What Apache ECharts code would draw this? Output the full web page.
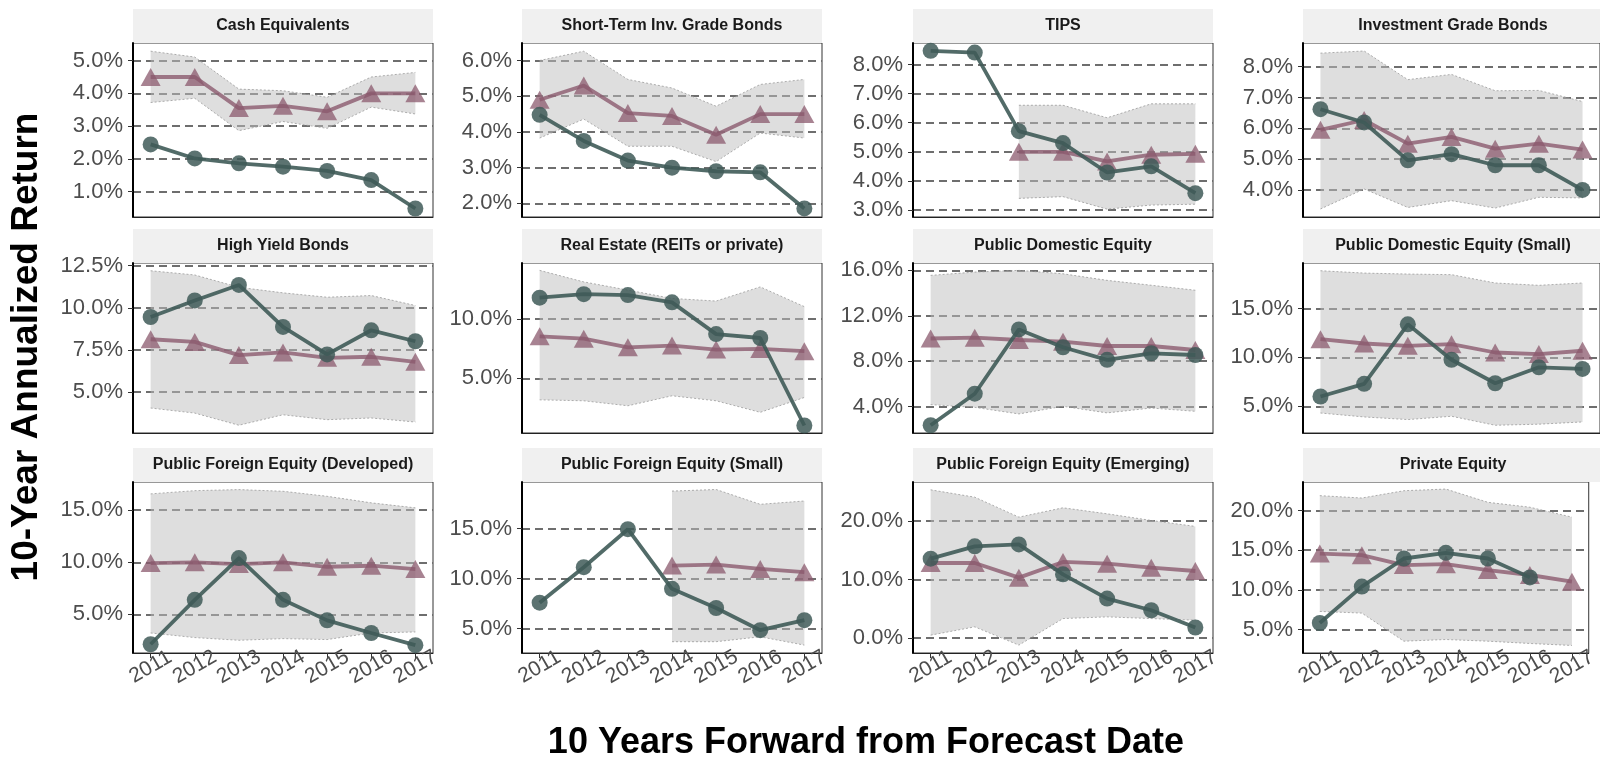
<!DOCTYPE html>
<html>
<head>
<meta charset="utf-8">
<title>10-Year Annualized Return by Asset Class</title>
<script src="https://cdn.jsdelivr.net/npm/echarts@6/dist/echarts.min.js"></script>
<style>
  html, body { margin: 0; padding: 0; background: #fff; }
  #chart { width: 1600px; height: 759px; }
</style>
</head>
<body>
<div id="chart"></div>
<script>
// x categories: 10 years forward from forecast date
const years = [2011, 2012, 2013, 2014, 2015, 2016, 2017];

// panel titles, in facet order
const panelTitles = [
  'Cash Equivalents', 'Short-Term Inv. Grade Bonds', 'TIPS', 'Investment Grade Bonds',
  'High Yield Bonds', 'Real Estate (REITs or private)', 'Public Domestic Equity', 'Public Domestic Equity (Small)',
  'Public Foreign Equity (Developed)', 'Public Foreign Equity (Small)', 'Public Foreign Equity (Emerging)', 'Private Equity'
];

// realized returns (circles), forecasts (triangles), forecast range (band low / high), in %
const cashActual = [2.44, 2.01, 1.86, 1.76, 1.63, 1.35, 0.48];
const cashForecast = [4.5, 4.5, 3.55, 3.62, 3.45, 4.0, 4.0];
const cashLow = [3.72, 3.85, 2.86, 3.14, 2.93, 3.58, 3.37];
const cashHigh = [5.29, 5.11, 4.13, 4.08, 3.88, 4.5, 4.64];

const stBondActual = [4.48, 3.75, 3.2, 3.0, 2.9, 2.87, 1.86];
const stBondForecast = [4.9, 5.3, 4.53, 4.45, 3.92, 4.5, 4.5];
const stBondLow = [3.83, 4.36, 3.6, 3.6, 3.17, 3.97, 3.83];
const stBondHigh = [6.0, 6.26, 5.47, 5.23, 4.72, 5.33, 5.47];

const tipsActual = [8.47, 8.41, 5.71, 5.3, 4.29, 4.5, 3.58];
const tipsForecast = [null, null, 5.0, 5.0, 4.67, 4.9, 4.93];
const tipsLow = [null, null, 3.4, 3.46, 3.03, 3.17, 3.2];
const tipsHigh = [null, null, 6.6, 6.6, 6.17, 6.65, 6.65];

const igBondActual = [6.62, 6.19, 4.96, 5.16, 4.8, 4.8, 4.0];
const igBondForecast = [5.95, 6.27, 5.5, 5.72, 5.34, 5.5, 5.31];
const igBondLow = [3.38, 4.03, 3.43, 3.65, 3.41, 3.76, 3.74];
const igBondHigh = [8.44, 8.51, 7.58, 7.75, 7.22, 7.23, 6.87];

const hyActual = [9.46, 10.44, 11.36, 8.87, 7.24, 8.67, 8.02];
const hyForecast = [8.14, 7.98, 7.2, 7.36, 7.04, 7.1, 6.8];
const hyLow = [4.06, 3.76, 3.04, 3.66, 3.37, 3.47, 3.23];
const hyHigh = [12.2, 11.95, 11.22, 10.89, 10.63, 10.73, 10.14];

const reActual = [11.78, 12.08, 12.0, 11.39, 8.72, 8.39, 1.03];
const reForecast = [8.53, 8.33, 7.61, 7.75, 7.42, 7.47, 7.28];
const reLow = [3.19, 3.11, 2.69, 3.53, 3.11, 2.14, 3.39];
const reHigh = [14.08, 13.11, 12.42, 11.72, 11.5, 12.69, 11.03];

const pdeActual = [2.36, 5.14, 10.8, 9.23, 8.12, 8.7, 8.55];
const pdeForecast = [10.0, 10.07, 9.87, 9.72, 9.34, 9.34, 8.99];
const pdeLow = [4.18, 3.94, 3.36, 4.03, 3.45, 3.88, 3.59];
const pdeHigh = [15.56, 15.85, 16.0, 15.7, 15.12, 14.69, 14.25];

const pdeSmallActual = [6.01, 7.3, 13.38, 9.76, 7.36, 8.99, 8.82];
const pdeSmallForecast = [11.86, 11.42, 11.18, 11.35, 10.5, 10.34, 10.68];
const pdeSmallLow = [4.32, 3.92, 3.65, 3.99, 3.07, 3.18, 3.41];
const pdeSmallHigh = [18.85, 18.61, 18.51, 18.45, 17.6, 17.36, 17.6];

const devActual = [2.14, 6.4, 10.4, 6.4, 4.43, 3.22, 2.05];
const devForecast = [9.92, 10.0, 9.83, 10.0, 9.57, 9.67, 9.35];
const devLow = [3.22, 2.78, 2.52, 2.68, 2.59, 3.22, 3.32];
const devHigh = [16.56, 16.87, 16.97, 16.81, 16.33, 15.7, 15.22];

const pfeSmallActual = [7.58, 11.13, 14.93, 8.97, 7.05, 4.83, 5.83];
const pfeSmallForecast = [null, null, null, 11.29, 11.39, 10.96, 10.63];
const pfeSmallLow = [null, null, null, 3.68, 3.68, 4.17, 3.34];
const pfeSmallHigh = [null, null, null, 18.74, 18.9, 17.42, 17.75];

const emActual = [13.56, 15.67, 16.01, 10.88, 6.72, 4.73, 1.77];
const emForecast = [12.82, 12.82, 10.31, 13.0, 12.71, 12.02, 11.45];
const emLow = [0.46, 1.88, -1.25, 3.3, 3.59, 3.3, 3.02];
const emHigh = [25.36, 24.1, 20.68, 22.28, 21.25, 20.11, 19.09];

const peActual = [5.83, 10.42, 13.96, 14.67, 13.96, 11.58, null];
const peForecast = [14.58, 14.38, 13.13, 13.25, 12.5, 11.88, 11.04];
const peLow = [7.29, 7.08, 3.54, 3.75, 3.54, 3.25, 3.0];
const peHigh = [21.88, 21.58, 22.5, 22.71, 21.04, 20.42, 19.17];

// y tick labels per panel
const yTicks = [
  [1, 2, 3, 4, 5], [2, 3, 4, 5, 6], [3, 4, 5, 6, 7, 8], [4, 5, 6, 7, 8],
  [5, 7.5, 10, 12.5], [5, 10], [4, 8, 12, 16], [5, 10, 15],
  [5, 10, 15], [5, 10, 15], [0, 10, 20], [5, 10, 15, 20]
];

const actuals = [cashActual, stBondActual, tipsActual, igBondActual, hyActual, reActual,
  pdeActual, pdeSmallActual, devActual, pfeSmallActual, emActual, peActual];
const forecasts = [cashForecast, stBondForecast, tipsForecast, igBondForecast, hyForecast, reForecast,
  pdeForecast, pdeSmallForecast, devForecast, pfeSmallForecast, emForecast, peForecast];
const lows = [cashLow, stBondLow, tipsLow, igBondLow, hyLow, reLow,
  pdeLow, pdeSmallLow, devLow, pfeSmallLow, emLow, peLow];
const highs = [cashHigh, stBondHigh, tipsHigh, igBondHigh, hyHigh, reHigh,
  pdeHigh, pdeSmallHigh, devHigh, pfeSmallHigh, emHigh, peHigh];

// y range of each panel (data range plus ~5%)
const yRanges = [
  [0.22, 5.54], [1.62, 6.49], [2.76, 8.74], [3.12, 8.77],
  [2.58, 12.66], [0.4, 14.7], [1.68, 16.65], [2.28, 19.64],
  [1.3, 17.7], [2.55, 19.65], [-2.6, 26.7], [2.05, 23.6]
];

// layout
const colLeft = [133, 522, 913, 1303];
const rowTop = [43, 263, 482];
const rowHeight = [174, 170, 171];
const panelWidth = 300;
const stripHeight = 34;

const FONT = "'Liberation Sans', Arial, sans-serif";
const ACTUAL_COLOR = '#3f5b58';
const FORECAST_COLOR = '#8b5a6e';

const pairs = arr => years.map((y, k) => [y, arr[k]]).filter(d => d[1] != null);

const grids = [], xAxes = [], yAxes = [], series = [], graphics = [];

panelTitles.forEach((title, i) => {
  const row = Math.floor(i / 4), col = i % 4;
  const left = colLeft[col], top = rowTop[row], height = rowHeight[row];
  const bottomRow = row === 2;

  grids.push({
    left: left, top: top, width: panelWidth, height: height,
    show: true, borderColor: '#333', borderWidth: 1, backgroundColor: '#fff'
  });

  xAxes.push({
    type: 'value', gridIndex: i, min: 2010.6, max: 2017.4,
    axisLine: { show: true, onZero: false, lineStyle: { color: '#222', width: 1 } },
    axisTick: { show: bottomRow, customValues: years, length: 5, lineStyle: { color: '#333' } },
    axisLabel: {
      show: bottomRow, customValues: years, rotate: 30, align: 'center', verticalAlign: 'middle',
      margin: 14, fontSize: 21, color: '#4d4d4d', fontFamily: FONT,
      formatter: v => String(v)
    },
    splitLine: { show: false }
  });

  yAxes.push({
    type: 'value', gridIndex: i, min: yRanges[i][0], max: yRanges[i][1],
    axisLine: { show: true, lineStyle: { color: '#000', width: 2 } },
    axisTick: { show: true, customValues: yTicks[i], length: 5, lineStyle: { color: '#333' } },
    axisLabel: {
      customValues: yTicks[i], margin: 10, fontSize: 22, color: '#4d4d4d', fontFamily: FONT,
      formatter: v => v.toFixed(1) + '%'
    },
    splitLine: { show: true, lineStyle: { color: '#6e6e6e', width: 1.8, type: [8, 5] } }
  });

  // forecast range band, drawn as one polygon through the panel's scales
  const low = lows[i], high = highs[i];
  const bandRows = years.map((y, k) => [y, low[k], high[k]]).filter(d => d[1] != null);
  series.push({
    type: 'custom', coordinateSystem: 'cartesian2d', xAxisIndex: i, yAxisIndex: i,
    silent: true, z: 1, data: bandRows,
    renderItem: (params, api) => {
      if (params.dataIndex !== 0) return null;
      const upper = bandRows.map(d => api.coord([d[0], d[2]]));
      const lower = bandRows.map(d => api.coord([d[0], d[1]]));
      const edge = { stroke: '#9a9a9a', lineWidth: 0.8, lineDash: [2, 2], fill: null };
      return {
        type: 'group',
        children: [
          { type: 'polygon', shape: { points: upper.concat(lower.slice().reverse()) },
            style: { fill: 'rgba(190,190,190,0.5)' } },
          { type: 'polyline', shape: { points: upper }, style: edge },
          { type: 'polyline', shape: { points: lower }, style: edge }
        ]
      };
    }
  });

  series.push({
    name: 'Forecast', type: 'line', xAxisIndex: i, yAxisIndex: i, z: 3,
    data: pairs(forecasts[i]), symbol: 'triangle', symbolSize: [20, 18], showAllSymbol: true,
    lineStyle: { color: FORECAST_COLOR, width: 3.8, opacity: 0.8 },
    itemStyle: { color: FORECAST_COLOR, opacity: 0.75 }
  });
  series.push({
    name: 'Actual', type: 'line', xAxisIndex: i, yAxisIndex: i, z: 4,
    data: pairs(actuals[i]), symbol: 'circle', symbolSize: 16, showAllSymbol: true,
    lineStyle: { color: ACTUAL_COLOR, width: 3.8, opacity: 0.9 },
    itemStyle: { color: ACTUAL_COLOR, opacity: 0.85 }
  });

  // facet strip
  graphics.push({
    type: 'rect', left: left, top: top - stripHeight, silent: true,
    shape: { width: panelWidth, height: stripHeight },
    style: { fill: '#f0f0f0' }
  });
  graphics.push({
    type: 'text', x: left + panelWidth / 2, y: top - stripHeight / 2, silent: true,
    style: {
      text: title, fill: '#1a1a1a', font: 'bold 16px ' + FONT,
      textAlign: 'center', textVerticalAlign: 'middle'
    }
  });
});

graphics.push({
  type: 'text', x: 27, y: 347, rotation: Math.PI / 2, silent: true,
  style: {
    text: '10-Year Annualized Return', fill: '#000', font: 'bold 37px ' + FONT,
    textAlign: 'center', textVerticalAlign: 'middle'
  }
});
graphics.push({
  type: 'text', x: 866, y: 743, silent: true,
  style: {
    text: '10 Years Forward from Forecast Date', fill: '#000', font: 'bold 36px ' + FONT,
    textAlign: 'center', textVerticalAlign: 'middle'
  }
});

const chart = echarts.init(document.getElementById('chart'));
chart.setOption({
  animation: false,
  backgroundColor: '#fff',
  grid: grids,
  xAxis: xAxes,
  yAxis: yAxes,
  series: series,
  graphic: graphics
});
window.addEventListener('resize', () => chart.resize());
</script>
</body>
</html>
